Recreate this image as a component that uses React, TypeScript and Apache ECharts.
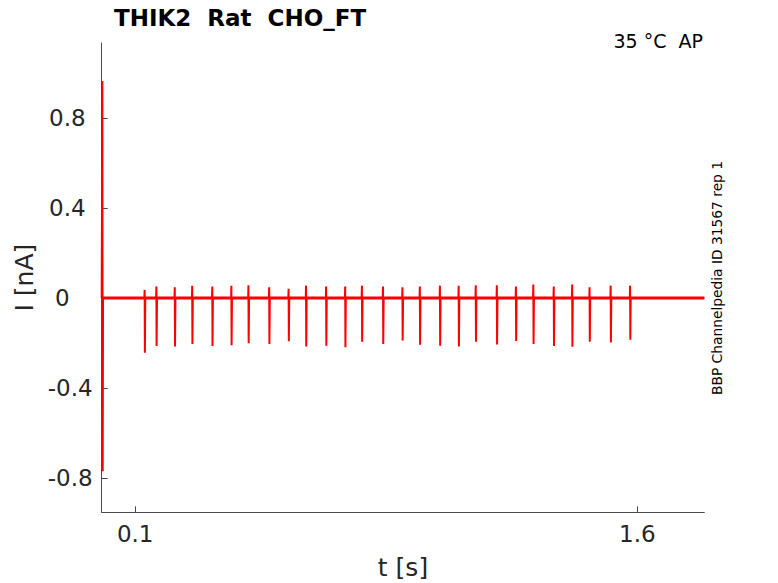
import React, { useEffect, useRef } from "react";
import * as echarts from "echarts";

// time of each evoked spike [s]
const spikeTimes = [
  0.129, 0.164, 0.219, 0.271, 0.331, 0.388, 0.439, 0.501, 0.559, 0.611, 0.671, 0.728, 0.778,
  0.841, 0.899, 0.951, 1.011, 1.067, 1.118, 1.181, 1.238, 1.29, 1.351, 1.406, 1.458, 1.521, 1.579,
];
// negative peak of each spike [nA]
const spikeDown = [
  -0.243, -0.213, -0.216, -0.204, -0.213, -0.21, -0.201, -0.205, -0.192, -0.216, -0.212, -0.219, -0.195,
  -0.204, -0.189, -0.208, -0.212, -0.216, -0.195, -0.207, -0.191, -0.204, -0.213, -0.217, -0.194, -0.198, -0.186,
];
// small positive blip preceding each spike [nA]
const spikeUp = [
  0.036, 0.051, 0.048, 0.054, 0.051, 0.054, 0.057, 0.048, 0.041, 0.055, 0.051, 0.051, 0.055,
  0.051, 0.048, 0.051, 0.055, 0.054, 0.057, 0.057, 0.051, 0.06, 0.051, 0.06, 0.048, 0.055, 0.055,
];
// initial capacitive transient
const transientTimes = [0.0, 0.002, 0.003, 0.004];
const transientValues = [0.0, 0.965, -0.77, 0.0];
// baseline
const baselineTimes = [0.004, 1.8];
const baselineValues = [0.0, 0.0];

const xTicks = [0.1, 1.6];
const yTicks = [-0.8, -0.4, 0, 0.4, 0.8];

const X_MIN = 0;
const X_MAX = 1.8;
const Y_MIN = -0.953;
const Y_MAX = 1.134;

function buildTrace(): number[][] {
  const pts: number[][] = [];
  transientTimes.forEach((t, i) => pts.push([t, transientValues[i]]));
  spikeTimes.forEach((t, i) => {
    pts.push([t - 0.0015, 0]);
    pts.push([t - 0.0007, spikeUp[i]]);
    pts.push([t, spikeDown[i]]);
    pts.push([t + 0.0012, 0]);
  });
  pts.push([X_MAX, 0]);
  return pts;
}

const FONT = "DejaVu Sans";

export default function App() {
  const ref = useRef<HTMLDivElement>(null);
  useEffect(() => {
    document.body.style.margin = "0";
    if (!ref.current) return;
    const chart = echarts.init(ref.current, undefined, { renderer: "svg" });
    const axisColor = "#4a4a4a";
    const labelColor = "#262626";
    const labelStyle = { fontFamily: FONT, fontSize: 23, color: labelColor };
    chart.setOption({
      animation: false,
      backgroundColor: "#ffffff",
      grid: {
        left: 101.7,
        right: 73.7,
        top: 43,
        bottom: 70.7,
        containLabel: false,
        outerBoundsMode: "none",
      },
      xAxis: {
        type: "value",
        min: X_MIN,
        max: X_MAX,
        name: "t [s]",
        nameLocation: "middle",
        nameGap: 43,
        nameTextStyle: { fontFamily: FONT, fontSize: 25, color: labelColor },
        axisLine: { show: true, onZero: false, lineStyle: { color: axisColor, width: 1 } },
        axisTick: { show: true, inside: true, length: 6, customValues: xTicks, lineStyle: { color: axisColor } },
        axisLabel: {
          customValues: xTicks,
          fontFamily: FONT,
          fontSize: 23,
          color: labelColor,
          margin: 10,
        },
        splitLine: { show: false },
      },
      yAxis: {
        type: "value",
        min: Y_MIN,
        max: Y_MAX,
        name: "I [nA]",
        nameLocation: "middle",
        nameGap: 50,
        nameTextStyle: { fontFamily: FONT, fontSize: 25, color: labelColor },
        axisLine: { show: true, onZero: false, lineStyle: { color: axisColor, width: 1 } },
        axisTick: { show: true, inside: true, length: 6, customValues: yTicks, lineStyle: { color: axisColor } },
        axisLabel: {
          customValues: yTicks,
          margin: 9,
          formatter: (v: number) => {
            if (v === 0) return "{z|0}";
            if (v > 0) return "{p|" + v + "}";
            return "{n|" + v + "}";
          },
          rich: {
            z: { ...labelStyle, padding: [0, 23, 0, 0] },
            p: { ...labelStyle, padding: [0, 7, 0, 0] },
            n: { ...labelStyle, padding: [0, 0, 0, 0] },
          },
        },
        splitLine: { show: false },
      },
      series: [
        {
          type: "line",
          name: "baseline",
          data: baselineTimes.map((t, i) => [t, baselineValues[i]]),
          showSymbol: false,
          lineStyle: { color: "#ff0000", width: 3.2 },
          silent: true,
        },
        {
          type: "line",
          name: "trace",
          data: buildTrace(),
          showSymbol: false,
          lineStyle: { color: "#ff0000", width: 2 },
          silent: true,
        },
      ],
      graphic: [
        {
          type: "text",
          left: 114,
          top: 6,
          style: {
            text: "THIK2  Rat  CHO_FT",
            fontFamily: FONT,
            fontWeight: "bold",
            fontSize: 23,
            fill: "#000000",
          },
        },
        {
          type: "text",
          x: 703,
          y: 41,
          style: {
            text: "35 °C  AP",
            fontFamily: FONT,
            fontSize: 19,
            fill: "#000000",
            align: "right",
            verticalAlign: "middle",
          },
        },
        {
          type: "text",
          x: 717,
          y: 278,
          rotation: Math.PI / 2,
          style: {
            text: "BBP Channelpedia ID 31567 rep 1",
            fontFamily: FONT,
            fontSize: 13.8,
            fill: "#000000",
            align: "center",
            verticalAlign: "middle",
          },
        },
      ],
    });
    return () => chart.dispose();
  }, []);
  return <div ref={ref} style={{ width: 778, height: 583 }} />;
}
